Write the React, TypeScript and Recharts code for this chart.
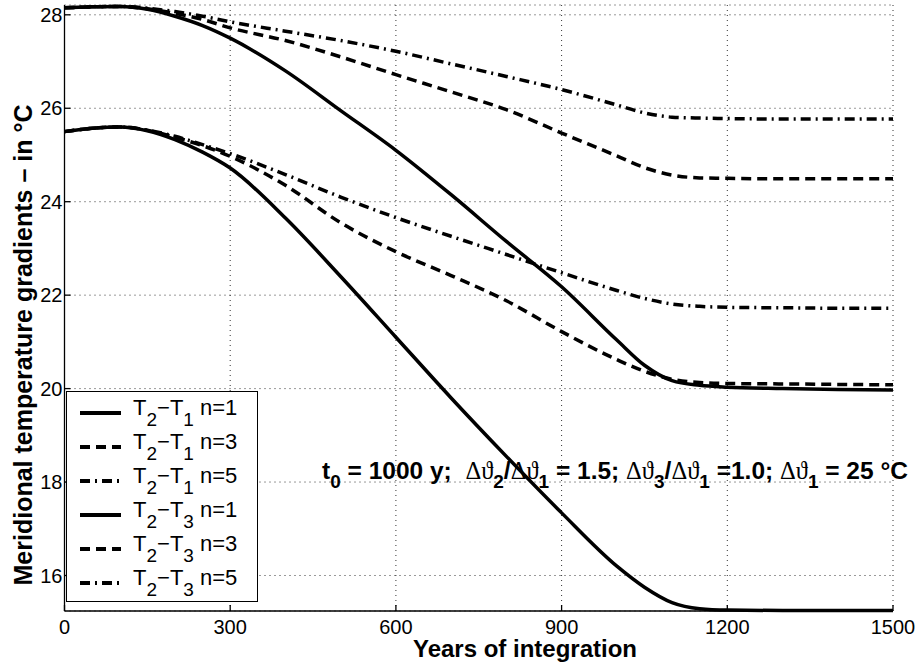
import React from "react";
import {
  LineChart,
  Line,
  XAxis,
  YAxis,
  CartesianGrid,
  Legend,
} from "recharts";

// years of integration
const years = [0, 50, 100, 150, 200, 250, 300, 400, 500, 600, 700, 800, 900, 1000, 1050, 1100, 1150, 1200, 1300, 1400, 1500];

// T2 - T1
const t21n1 = [28.15, 28.17, 28.18, 28.12, 27.97, 27.77, 27.5, 26.8, 25.95, 25.1, 24.15, 23.15, 22.18, 21.04, 20.5, 20.17, 20.07, 20.03, 20.0, 19.98, 19.97];
const t21n3 = [28.15, 28.17, 28.18, 28.13, 28.03, 27.9, 27.72, 27.45, 27.1, 26.72, 26.35, 25.97, 25.47, 24.98, 24.73, 24.57, 24.51, 24.5, 24.49, 24.49, 24.49];
const t21n5 = [28.15, 28.17, 28.18, 28.14, 28.07, 27.97, 27.85, 27.65, 27.45, 27.22, 26.95, 26.68, 26.4, 26.07, 25.9, 25.81, 25.79, 25.78, 25.77, 25.77, 25.77];

// T2 - T3
const t23n1 = [25.5, 25.57, 25.6, 25.52, 25.33, 25.06, 24.72, 23.65, 22.4, 21.1, 19.8, 18.55, 17.34, 16.2, 15.75, 15.42, 15.29, 15.26, 15.25, 15.25, 15.25];
const t23n3 = [25.5, 25.57, 25.6, 25.53, 25.38, 25.2, 24.97, 24.35, 23.55, 22.93, 22.42, 21.88, 21.22, 20.62, 20.37, 20.2, 20.13, 20.11, 20.1, 20.09, 20.08];
const t23n5 = [25.5, 25.57, 25.6, 25.53, 25.4, 25.22, 25.03, 24.58, 24.1, 23.66, 23.26, 22.87, 22.48, 22.1, 21.93, 21.81, 21.76, 21.74, 21.73, 21.72, 21.72];

const xTicks = [0, 300, 600, 900, 1200, 1500];
const yTicks = [16, 18, 20, 22, 24, 26, 28];

const SOLID = undefined;
const DASH = "10 6";
const DASHDOT = "10 5 2 5";

const series = [
  { key: "t21n1", values: t21n1, hi: "2", lo: "1", n: 1, dash: SOLID },
  { key: "t21n3", values: t21n3, hi: "2", lo: "1", n: 3, dash: DASH },
  { key: "t21n5", values: t21n5, hi: "2", lo: "1", n: 5, dash: DASHDOT },
  { key: "t23n1", values: t23n1, hi: "2", lo: "3", n: 1, dash: SOLID },
  { key: "t23n3", values: t23n3, hi: "2", lo: "3", n: 3, dash: DASH },
  { key: "t23n5", values: t23n5, hi: "2", lo: "3", n: 5, dash: DASHDOT },
];

const data = years.map((yr, i) => {
  const row: Record<string, number> = { year: yr };
  series.forEach((s) => (row[s.key] = s.values[i]));
  return row;
});

const SANS = "'Liberation Sans', Arial, Helvetica, sans-serif";
const SERIF = "'Liberation Serif', 'DejaVu Serif', serif";

const Sub = ({ children, size = 17, drop = 8 }: { children: React.ReactNode; size?: number; drop?: number }) => (
  <span style={{ fontSize: size, position: "relative", top: drop }}>{children}</span>
);

const Dt = ({ i }: { i: string }) => (
  <>
    <span style={{ fontFamily: SERIF, fontWeight: 400 }}>Δϑ</span>
    <Sub size={19} drop={9}>{i}</Sub>
  </>
);

const renderLegend = () => (
  <div
    style={{
      width: 192,
      height: 211,
      boxSizing: "border-box",
      border: "1.3px solid #000",
      background: "#fff",
      fontFamily: SANS,
      fontSize: 22,
      color: "#000",
      paddingTop: 4,
    }}
  >
    {series.map((s) => (
      <div key={s.key} style={{ height: 34, display: "flex", alignItems: "center", whiteSpace: "pre" }}>
        <svg width={66} height={20} style={{ flex: "none" }}>
          <line x1={13} y1={10} x2={54} y2={10} stroke="#000" strokeWidth={4} strokeDasharray={s.dash} />
        </svg>
        <span style={{ position: "relative", top: -5 }}>
          T<Sub size={19} drop={11}>{s.hi}</Sub>−T<Sub size={19} drop={11}>{s.lo}</Sub> n={s.n}
        </span>
      </div>
    ))}
  </div>
);

export default function App() {
  return (
    <div style={{ position: "absolute", left: 0, top: 0, width: 917, height: 662, background: "#fff" }}>
      <LineChart
        width={917}
        height={662}
        data={data}
        margin={{ top: 5, right: 24, bottom: 0, left: 0 }}
        style={{ fontFamily: SANS }}
      >
        <CartesianGrid stroke="#333" strokeDasharray="1 4" strokeWidth={1} />
        <XAxis
          dataKey="year"
          type="number"
          domain={[0, 1500]}
          ticks={xTicks}
          interval={0}
          height={51}
          tickSize={-6}
          tickMargin={15}
          axisLine={{ stroke: "#000", strokeWidth: 1.3 }}
          tickLine={{ stroke: "#000", strokeWidth: 1.3 }}
          tick={{ fill: "#000", fontSize: 20 }}
          label={{
            content: () => (
              <text x={525} y={657} textAnchor="middle" fontSize={24} fontWeight="bold" fill="#000">
                Years of integration
              </text>
            ),
          }}
        />
        <XAxis
          xAxisId="top"
          orientation="top"
          dataKey="year"
          type="number"
          domain={[0, 1500]}
          ticks={xTicks}
          interval={0}
          height={0}
          tickSize={-6}
          tick={false}
          axisLine={{ stroke: "#000", strokeWidth: 1.3 }}
          tickLine={{ stroke: "#000", strokeWidth: 1.3 }}
        />
        <YAxis
          type="number"
          domain={[15.24, 28.21]}
          ticks={yTicks}
          interval={0}
          width={64.5}
          tickSize={-6}
          tickMargin={8}
          axisLine={{ stroke: "#000", strokeWidth: 1.3 }}
          tickLine={{ stroke: "#000", strokeWidth: 1.3 }}
          tick={{ fill: "#000", fontSize: 20 }}
          label={{
            content: () => (
              <text
                x={23}
                y={345}
                transform="rotate(-90 23 345)"
                textAnchor="middle"
                dominantBaseline="central"
                fontSize={25}
                fontWeight="bold"
                fill="#000"
              >
                Meridional temperature gradients – in  °C
              </text>
            ),
          }}
        />
        <YAxis
          yAxisId="right"
          orientation="right"
          type="number"
          domain={[15.24, 28.21]}
          ticks={yTicks}
          interval={0}
          width={0}
          tickSize={-6}
          tick={false}
          axisLine={{ stroke: "#000", strokeWidth: 1.3 }}
          tickLine={{ stroke: "#000", strokeWidth: 1.3 }}
        />
        {series.map((s) => (
          <Line
            key={s.key}
            dataKey={s.key}
            type="monotone"
            stroke="#000"
            strokeWidth={3.5}
            strokeDasharray={s.dash}
            dot={false}
            activeDot={false}
            isAnimationActive={false}
          />
        ))}
        <Legend
          layout="vertical"
          align="center"
          verticalAlign="middle"
          content={renderLegend}
          wrapperStyle={{ left: 66, top: 391, width: 192, height: 211 }}
        />
      </LineChart>
      <div
        style={{
          position: "absolute",
          left: 322,
          top: 457,
          fontFamily: SANS,
          fontWeight: "bold",
          fontSize: 24.5,
          lineHeight: "normal",
          whiteSpace: "pre",
          color: "#000",
        }}
      >
        t<Sub size={19} drop={9}>0</Sub> = 1000 y;  <Dt i="2" />/<Dt i="1" /> = 1.5; <Dt i="3" />/<Dt i="1" /> =1.0; <Dt i="1" /> = 25 °C
      </div>
    </div>
  );
}
